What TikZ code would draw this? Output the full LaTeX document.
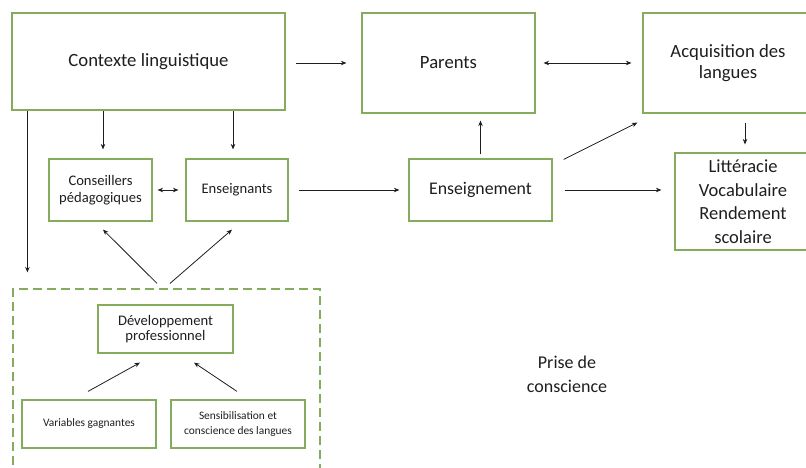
\documentclass[tikz,border=0pt]{standalone}
\usepackage{fontspec}
\setmainfont{Carlito}
\usetikzlibrary{arrows.meta,%
		calc,%
		positioning}
\definecolor{boxgreen}{RGB}{132,172,92}
\definecolor{inkgray}{RGB}{30,30,30}

\begin{document}
\begin{tikzpicture}[x=1pt,y=-1pt,
	box/.style={draw=boxgreen,line width=1.2pt,align=center,inner sep=2pt,text=inkgray},
	dashbox/.style={draw=boxgreen,line width=1.2pt,dash pattern=on 9pt off 5pt},
	arr/.style={-{Stealth[length=5.5pt,width=4.5pt]},line width=0.8pt,draw=inkgray},
	big/.style={font=\fontsize{18.7}{20.5}\selectfont},
	mid/.style={font=\fontsize{14.6}{17}\selectfont},
	small/.style={font=\fontsize{11.4}{14.5}\selectfont}]

\useasboundingbox (0,0) rectangle (806,467);
\clip (0,0) rectangle (806,467);

\node[box,big,line width=2.4pt,minimum width=273pt,minimum height=97pt] (ctx) at (148.5,61.5) {Contexte linguistique};
\node[box,big,minimum width=173pt,minimum height=100pt] (par) at (448.5,63) {Parents};
\node[box,big,minimum width=170pt,minimum height=100pt] (acq) at (728,63) {Acquisition des\\langues};

\node[box,mid,minimum width=103pt,minimum height=62pt] (cons) at (100.5,190) {Conseillers\\p\'edagogiques};
\node[box,mid,minimum width=102pt,minimum height=62pt] (ens) at (237,190) {Enseignants};
\node[box,font=\fontsize{17.8}{20}\selectfont,minimum width=143pt,minimum height=62pt] (enst) at (480.5,190) {Enseignement};
\node[box,font=\fontsize{18.5}{23.5}\selectfont,minimum width=136pt,minimum height=97pt] (lit) at (743,201.5) {Litt\'eracie\\Vocabulaire\\Rendement\\scolaire};

% bloc du developpement professionnel
\node[dashbox,minimum width=307pt,minimum height=185pt] (pd) at (166.5,381.5) {};
\node[box,mid,font=\fontsize{14.6}{15.7}\selectfont,minimum width=135pt,minimum height=48pt] (dev) at (165.5,329) {D\'eveloppement\\professionnel};
\node[box,small,minimum width=134pt,minimum height=48pt] (var) at (89,424) {Variables gagnantes};
\node[box,small,minimum width=134pt,minimum height=48pt] (sens) at (238,424) {Sensibilisation et\\conscience des langues};

\node[align=center,text=inkgray,font=\fontsize{18}{24}\selectfont] (pc) at (567,374) {Prise de\\conscience};

\draw[arr,shorten <=10pt,shorten >=15pt] (ctx.east |- par.west) -- (par.west);
\draw[arr,{Stealth[length=5.5pt,width=4.5pt]}-{Stealth[length=5.5pt,width=4.5pt]},shorten <=8pt,shorten >=11pt] (par.east) -- (acq.west);
\draw[arr,shorten >=9pt] ([xshift=2.5pt]cons.north |- ctx.south) -- ([xshift=2.5pt]cons.north);
\draw[arr,shorten >=9pt] ([xshift=-4pt]ens.north |- ctx.south) -- ([xshift=-4pt]ens.north);
\draw[arr,shorten >=16pt] ([xshift=15pt]pd.north west |- ctx.south) -- ([xshift=15pt]pd.north west);
\draw[arr,{Stealth[length=5.5pt,width=4.5pt]}-{Stealth[length=5.5pt,width=4.5pt]},shorten <=5pt,shorten >=7pt] (cons.east) -- (ens.west);
\draw[arr] ([shift={(-9.5pt,5pt)}]pd.north) -- ([shift={(2.5pt,-8pt)}]cons.south);
\draw[arr] ([shift={(3.5pt,5pt)}]pd.north) -- ([shift={(-5pt,-8pt)}]ens.south);
\draw[arr,shorten <=10pt,shorten >=9pt] (ens.east) -- (enst.west);
\draw[arr,shorten <=4pt,shorten >=7pt] (enst.north) -- (enst.north |- par.south);
\draw[arr] ([shift={(11pt,-1pt)}]enst.north east) -- ([shift={(-5pt,-9pt)}]acq.south west);
\draw[arr,shorten <=9pt,shorten >=8pt] ([xshift=17pt]acq.south) -- ([xshift=17pt]acq.south |- lit.north);
\draw[arr,shorten <=12pt,shorten >=13pt] (enst.east) -- (enst.east -| lit.west);
\draw[arr] ([shift={(-1pt,8pt)}]var.north) -- ([shift={(-25.5pt,-9pt)}]dev.south);
\draw[arr] ([shift={(-1pt,8pt)}]sens.north) -- ([shift={(28.5pt,-9pt)}]dev.south);
\end{tikzpicture}
\end{document}
